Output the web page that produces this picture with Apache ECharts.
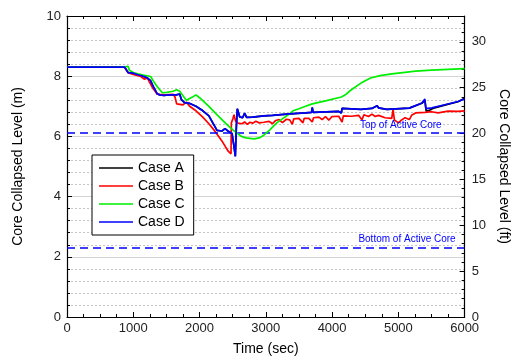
<!DOCTYPE html>
<html>
<head>
<meta charset="utf-8">
<script src="https://cdn.jsdelivr.net/npm/echarts@6/dist/echarts.min.js"></script>
<style>
html,body{margin:0;padding:0;background:#fff;}
#chart{width:519px;height:361px;}
</style>
</head>
<body>
<div id="chart"></div>
<script>
// ---- data (time in sec, level in m) ----
const seriesNames = ['Case A', 'Case B', 'Case C', 'Case D'];
const xTicks = [0, 1000, 2000, 3000, 4000, 5000, 6000];
const yTicksM = [0, 2, 4, 6, 8, 10];
const yTicksFt = [0, 5, 10, 15, 20, 25, 30];
const topOfCore = 6.12;
const bottomOfCore = 2.31;
const topLabel = 'Top of Active Core';
const bottomLabel = 'Bottom of Active Core';

const caseD = [[0,8.3],[870,8.3],[890,8.26],[922,8.12],[940,8.18],[1000,8.1],[1068,8.05],[1150,8.0],[1215,7.94],[1260,7.85],[1300,7.66],[1360,7.42],[1400,7.38],[1460,7.36],[1550,7.38],[1650,7.38],[1700,7.41],[1727,7.22],[1772,7.12],[1845,7.1],[1946,7.0],[2050,6.85],[2141,6.68],[2200,6.45],[2264,6.2],[2337,6.18],[2385,6.26],[2434,6.17],[2490,6.1],[2520,5.66],[2540,5.34],[2555,6.3],[2570,6.92],[2605,6.65],[2650,6.62],[2680,6.77],[2710,6.63],[2800,6.64],[2970,6.68],[3100,6.7],[3360,6.75],[3600,6.78],[3690,6.8],[3700,6.96],[3715,6.8],[4100,6.83],[4140,6.78],[4150,6.93],[4165,6.88],[4435,6.9],[4600,6.93],[4680,7.02],[4700,6.95],[4825,6.9],[5165,6.94],[5355,7.11],[5400,7.24],[5415,6.92],[5505,6.95],[5700,7.05],[5900,7.16],[6000,7.24]];
const caseA = [[0,8.3],[870,8.3],[890,8.26],[922,8.12],[940,8.18],[1000,8.1],[1068,8.05],[1150,8.0],[1215,7.94],[1260,7.85],[1300,7.66],[1360,7.42],[1400,7.38],[1460,7.36],[1550,7.38],[1650,7.38],[1700,7.41],[1727,7.22],[1772,7.12],[1845,7.1],[1946,7.0],[2050,6.85],[2141,6.68],[2200,6.45],[2264,6.2],[2337,6.18],[2385,6.26],[2434,6.17],[2490,6.1],[2520,5.66],[2540,5.34],[2555,6.3],[2570,6.92],[2605,6.65],[2650,6.62],[2680,6.77],[2710,6.63],[2800,6.64],[2970,6.68],[3100,6.7],[3360,6.75],[3600,6.78],[3690,6.8],[3700,6.96],[3715,6.8],[4100,6.83],[4140,6.78],[4150,6.93],[4165,6.88],[4435,6.9],[4600,6.93],[4680,7.02],[4700,6.95],[4825,6.9],[5165,6.94],[5355,7.1],[5400,7.2],[5420,6.84],[5470,6.87],[5520,6.93],[5700,7.04],[5900,7.15],[6000,7.27]];
const caseB = [[0,8.3],[870,8.3],[900,8.2],[922,8.12],[1000,8.06],[1115,7.99],[1165,7.9],[1215,7.94],[1240,7.82],[1290,7.62],[1330,7.5],[1360,7.4],[1480,7.38],[1605,7.4],[1630,7.3],[1655,7.08],[1750,7.05],[1800,7.14],[1850,7.0],[1946,6.85],[2045,6.65],[2141,6.42],[2240,6.15],[2337,5.85],[2435,5.5],[2475,5.42],[2480,6.45],[2505,6.6],[2520,6.72],[2545,6.5],[2580,6.44],[2600,6.5],[2640,6.42],[2680,6.48],[2720,6.4],[2760,6.47],[2800,6.44],[2850,6.5],[2900,6.45],[2970,6.47],[3050,6.5],[3100,6.42],[3150,6.53],[3200,6.56],[3250,6.46],[3310,6.57],[3360,6.55],[3400,6.4],[3420,6.58],[3500,6.6],[3560,6.45],[3580,6.6],[3650,6.6],[3700,6.48],[3720,6.62],[3800,6.64],[3850,6.56],[3900,6.66],[3950,6.54],[4000,6.66],[4100,6.67],[4150,6.48],[4170,6.68],[4290,6.67],[4400,6.7],[4450,6.55],[4480,6.72],[4550,6.66],[4600,6.74],[4650,6.66],[4700,6.7],[4800,6.62],[4900,6.6],[4920,6.9],[4940,6.55],[5000,6.45],[5050,6.55],[5100,6.62],[5165,6.56],[5200,6.7],[5260,6.78],[5400,6.8],[5500,6.82],[5600,6.78],[5750,6.84],[5900,6.83],[6000,6.85]];
const caseC = [[0,8.3],[870,8.3],[900,8.28],[922,8.33],[940,8.2],[1000,8.12],[1068,8.08],[1150,8.04],[1263,7.99],[1300,7.85],[1360,7.66],[1400,7.55],[1440,7.45],[1507,7.46],[1600,7.5],[1655,7.55],[1700,7.5],[1727,7.44],[1800,7.2],[1830,7.18],[1900,7.32],[1946,7.38],[2020,7.25],[2141,7.0],[2250,6.75],[2337,6.56],[2434,6.35],[2530,6.17],[2630,6.0],[2700,5.95],[2825,5.92],[2900,5.95],[2970,6.04],[3060,6.22],[3165,6.45],[3260,6.6],[3360,6.75],[3410,6.85],[3500,6.92],[3600,7.0],[3700,7.08],[3900,7.18],[4140,7.31],[4200,7.38],[4290,7.55],[4435,7.77],[4580,7.94],[4725,8.02],[4900,8.08],[5100,8.13],[5260,8.17],[5500,8.2],[5750,8.23],[6000,8.25]];

const M_TO_FT = 3.28084;
const font = 'Liberation Sans, Arial, sans-serif';
const colors = ['#000000', '#ff0000', '#00ee00', '#0000ff'];
const dataSets = [caseA, caseB, caseC, caseD];
const lineIcon = 'path://M0,0 L34,0 L34,1.6 L0,1.6 Z';

const chart = echarts.init(document.getElementById('chart'));
const axisLineStyle = {color: '#000', width: 1.2};
const labelStyle = {color: '#222', fontSize: 13, fontFamily: font};

const series = seriesNames.map((n, i) => ({
  name: n, type: 'line', data: dataSets[i], symbol: 'none', showSymbol: false,
  xAxisIndex: 0, yAxisIndex: 0,
  lineStyle: {color: colors[i], width: 1.7}, itemStyle: {color: colors[i]},
  animation: false, z: 3 + i
}));
series[0].markLine = {
  silent: true, symbol: ['none', 'none'], animation: false,
  lineStyle: {color: '#0000ff', type: [8, 5], width: 1.5},
  data: [
    {yAxis: topOfCore, label: {show: true, formatter: topLabel, position: 'insideEndTop', distance: [23, 3], color: '#0000ff', fontSize: 10, fontFamily: font}},
    {yAxis: bottomOfCore, label: {show: true, formatter: bottomLabel, position: 'insideEndTop', distance: [9, 3], color: '#0000ff', fontSize: 10, fontFamily: font}}
  ]
};

chart.setOption({
  backgroundColor: '#fff',
  animation: false,
  grid: {left: 67, right: 42, top: 16, bottom: 43},
  legend: {
    data: seriesNames.map(n => ({name: n, icon: lineIcon})), orient: 'vertical', left: 92, top: 155,
    itemWidth: 34, itemHeight: 14, itemGap: 4,
    padding: [6, 9, 6, 7], borderColor: '#000', borderWidth: 1, backgroundColor: '#fff',
    textStyle: {color: '#000', fontSize: 14, fontFamily: font}
  },
  xAxis: [{
    type: 'value', min: xTicks[0], max: xTicks[xTicks.length - 1], interval: 1000,
    name: 'Time (sec)', nameLocation: 'middle', nameGap: 25,
    nameTextStyle: {color: '#000', fontSize: 14, fontFamily: font},
    axisLine: {show: true, onZero: false, lineStyle: axisLineStyle},
    axisTick: {show: true, inside: true, length: 5, lineStyle: {color: '#000'}},
    minorTick: {show: true, splitNumber: 4, length: 3, lineStyle: {color: '#000'}},
    axisLabel: Object.assign({margin: 5, formatter: v => String(v)}, labelStyle),
    splitLine: {show: false}
  }, {
    type: 'value', position: 'top', min: xTicks[0], max: xTicks[xTicks.length - 1], interval: 1000,
    axisLine: {show: true, onZero: false, lineStyle: axisLineStyle},
    axisTick: {show: true, inside: true, length: 5, lineStyle: {color: '#000'}},
    minorTick: {show: true, splitNumber: 4, length: 3, lineStyle: {color: '#000'}},
    axisLabel: {show: false}, splitLine: {show: false}
  }],
  yAxis: [{
    type: 'value', min: yTicksM[0], max: yTicksM[yTicksM.length - 1], interval: 2,
    name: 'Core Collapsed Level (m)', nameLocation: 'middle', nameGap: 42, nameRotate: 90,
    nameTextStyle: {color: '#000', fontSize: 14, fontFamily: font},
    axisLine: {show: true, onZero: false, lineStyle: axisLineStyle},
    axisTick: {show: true, inside: true, length: 5, lineStyle: {color: '#000'}},
    minorTick: {show: true, splitNumber: 5, length: 3, lineStyle: {color: '#000'}},
    axisLabel: Object.assign({margin: 6}, labelStyle),
    splitLine: {show: true, lineStyle: {color: '#d4d4d4', width: 1.2}},
    minorSplitLine: {show: true, lineStyle: {color: '#c4c4c4', type: [2, 2], width: 1}}
  }, {
    type: 'value', position: 'right', min: 0, max: yTicksM[yTicksM.length - 1] * M_TO_FT, interval: 5,
    name: 'Core Collapsed Level (ft)', nameLocation: 'middle', nameGap: 29, nameRotate: -90,
    nameTextStyle: {color: '#000', fontSize: 14, fontFamily: font},
    axisLine: {show: true, onZero: false, lineStyle: axisLineStyle},
    axisTick: {show: true, inside: true, length: 5, lineStyle: {color: '#000'}},
    minorTick: {show: true, splitNumber: 5, length: 3, lineStyle: {color: '#000'}},
    axisLabel: Object.assign({margin: 7, showMaxLabel: false,
      formatter: v => (yTicksFt.indexOf(v) >= 0 ? String(v) : '')}, labelStyle),
    splitLine: {show: false}
  }],
  series: series
});
</script>
</body>
</html>
